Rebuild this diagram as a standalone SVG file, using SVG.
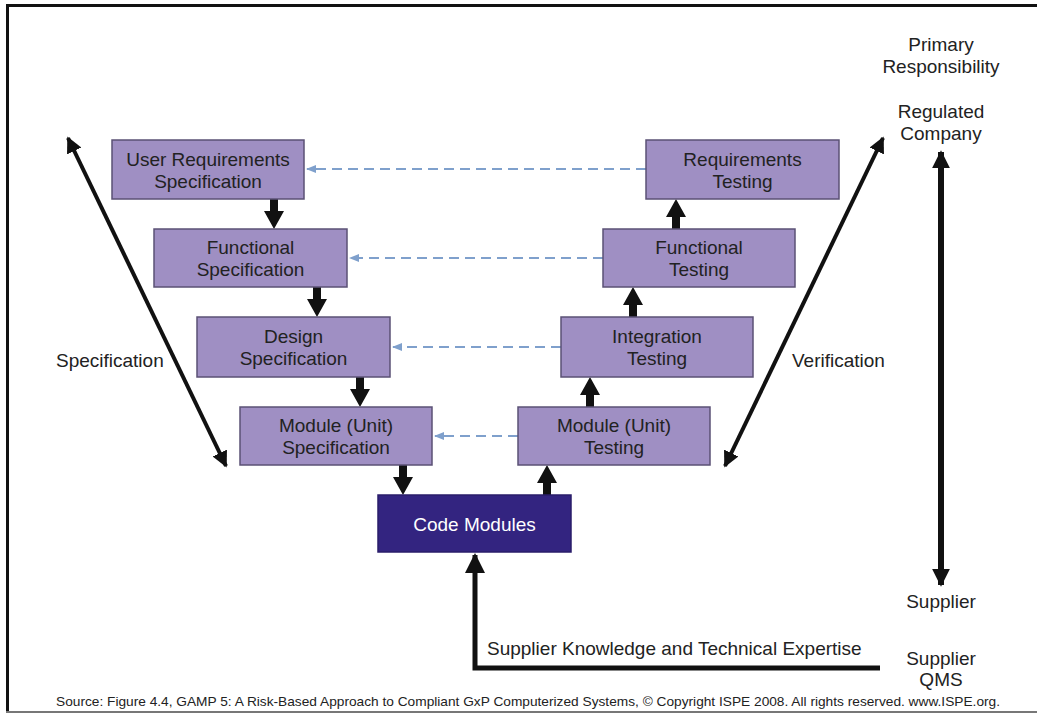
<svg xmlns="http://www.w3.org/2000/svg" width="1037" height="722" viewBox="0 0 1037 722">
<style>
.box{fill:#9f8fc3;stroke:#5b5175;stroke-width:1.5}
.code{fill:#332480;stroke:#2a1d6a;stroke-width:1.5}
text{font-family:"Liberation Sans",Arial,sans-serif;font-size:19px;fill:#222}
.c{text-anchor:middle}
.w{fill:#ffffff}
.dash{stroke:#7fa0cc;stroke-width:2;stroke-dasharray:10 6;fill:none}
.thin{stroke:#111;stroke-width:4;fill:none}
.thick{stroke:#111;stroke-width:6;fill:none}
.l{stroke:#111;stroke-width:5;fill:none}
</style>
<defs>
<path id="dn" d="M-4,0 H4 V12 H10 L0,30 L-10,12 H-4 Z" fill="#111"/>
<marker id="ah" viewBox="0 0 10 10" refX="9" refY="5" markerWidth="4" markerHeight="4" orient="auto-start-reverse" markerUnits="strokeWidth"><path d="M0,0 L10,5 L0,10 Z" fill="#111"/></marker>
<marker id="ahb" viewBox="0 0 10 10" refX="9" refY="5" markerWidth="3" markerHeight="3" orient="auto-start-reverse" markerUnits="strokeWidth"><path d="M0,0 L10,5 L0,10 Z" fill="#111"/></marker>
<marker id="ahd" viewBox="0 0 10 10" refX="9" refY="5" markerWidth="5" markerHeight="5" orient="auto" markerUnits="strokeWidth"><path d="M0,1 L10,5 L0,9 Z" fill="#7fa0cc"/></marker>
</defs>
<rect width="1037" height="722" fill="#ffffff"/>
<g id="frame">
<line x1="6" y1="5.5" x2="1037" y2="5.5" stroke="#111" stroke-width="3"/>
<line x1="7.5" y1="4" x2="7.5" y2="713" stroke="#111" stroke-width="3"/>
<line x1="6" y1="712" x2="1037" y2="712" stroke="#777" stroke-width="2"/>
</g>
<g id="connectors">
<use href="#dn" x="274" y="199"/>
<use href="#dn" x="317" y="287"/>
<use href="#dn" x="360" y="377"/>
<use href="#dn" x="403" y="465"/>
<use href="#dn" transform="translate(547,495) scale(1,-1)"/>
<use href="#dn" transform="translate(590,407) scale(1,-1)"/>
<use href="#dn" transform="translate(633,317) scale(1,-1)"/>
<use href="#dn" transform="translate(676,229) scale(1,-1)"/>
<line class="dash" x1="646" y1="169" x2="307" y2="169" marker-end="url(#ahd)"/>
<line class="dash" x1="603" y1="258" x2="350" y2="258" marker-end="url(#ahd)"/>
<line class="dash" x1="561" y1="347" x2="393" y2="347" marker-end="url(#ahd)"/>
<line class="dash" x1="518" y1="436" x2="435" y2="436" marker-end="url(#ahd)"/>
<line class="thin" x1="68" y1="138" x2="226" y2="466" marker-start="url(#ah)" marker-end="url(#ah)"/>
<line class="thin" x1="883" y1="138" x2="725" y2="466" marker-start="url(#ah)" marker-end="url(#ah)"/>
<line class="thick" x1="941" y1="152" x2="941" y2="585" marker-start="url(#ahb)" marker-end="url(#ahb)"/>
<polyline class="l" points="880,668 475,668 475,555" marker-end="url(#ah)"/>
</g>
<g id="urs"><rect class="box" x="112" y="140" width="192" height="59"/><text class="c" x="208" y="166">User Requirements</text><text class="c" x="208" y="188">Specification</text></g>
<g id="fs"><rect class="box" x="154" y="229" width="193" height="58"/><text class="c" x="250.5" y="254">Functional</text><text class="c" x="250.5" y="276">Specification</text></g>
<g id="ds"><rect class="box" x="197" y="317" width="193" height="60"/><text class="c" x="293.5" y="343">Design</text><text class="c" x="293.5" y="365">Specification</text></g>
<g id="ms"><rect class="box" x="240" y="407" width="192" height="58"/><text class="c" x="336" y="432">Module (Unit)</text><text class="c" x="336" y="454">Specification</text></g>
<g id="code"><rect class="code" x="378" y="495" width="193" height="57"/><text class="c w" x="474.5" y="531">Code Modules</text></g>
<g id="mt"><rect class="box" x="518" y="407" width="192" height="58"/><text class="c" x="614" y="432">Module (Unit)</text><text class="c" x="614" y="454">Testing</text></g>
<g id="it"><rect class="box" x="561" y="317" width="192" height="60"/><text class="c" x="657" y="343">Integration</text><text class="c" x="657" y="365">Testing</text></g>
<g id="ft"><rect class="box" x="603" y="229" width="192" height="58"/><text class="c" x="699" y="254">Functional</text><text class="c" x="699" y="276">Testing</text></g>
<g id="rt"><rect class="box" x="646" y="140" width="193" height="59"/><text class="c" x="742.5" y="166">Requirements</text><text class="c" x="742.5" y="188">Testing</text></g>
<g id="labels">
<text x="56" y="367">Specification</text>
<text x="792" y="367">Verification</text>
<text class="c" x="941" y="51">Primary</text>
<text class="c" x="941" y="73">Responsibility</text>
<text class="c" x="941" y="118">Regulated</text>
<text class="c" x="941" y="140">Company</text>
<text class="c" x="941" y="608">Supplier</text>
<text x="487" y="655">Supplier Knowledge and Technical Expertise</text>
<text class="c" x="941" y="665">Supplier</text>
<text class="c" x="941" y="686">QMS</text>
<text x="56" y="706" style="font-size:13.5px" textLength="944" lengthAdjust="spacingAndGlyphs">Source: Figure 4.4, GAMP 5: A Risk-Based Approach to Compliant GxP Computerized Systems, © Copyright ISPE 2008. All rights reserved. www.ISPE.org.</text>
</g>
</svg>
